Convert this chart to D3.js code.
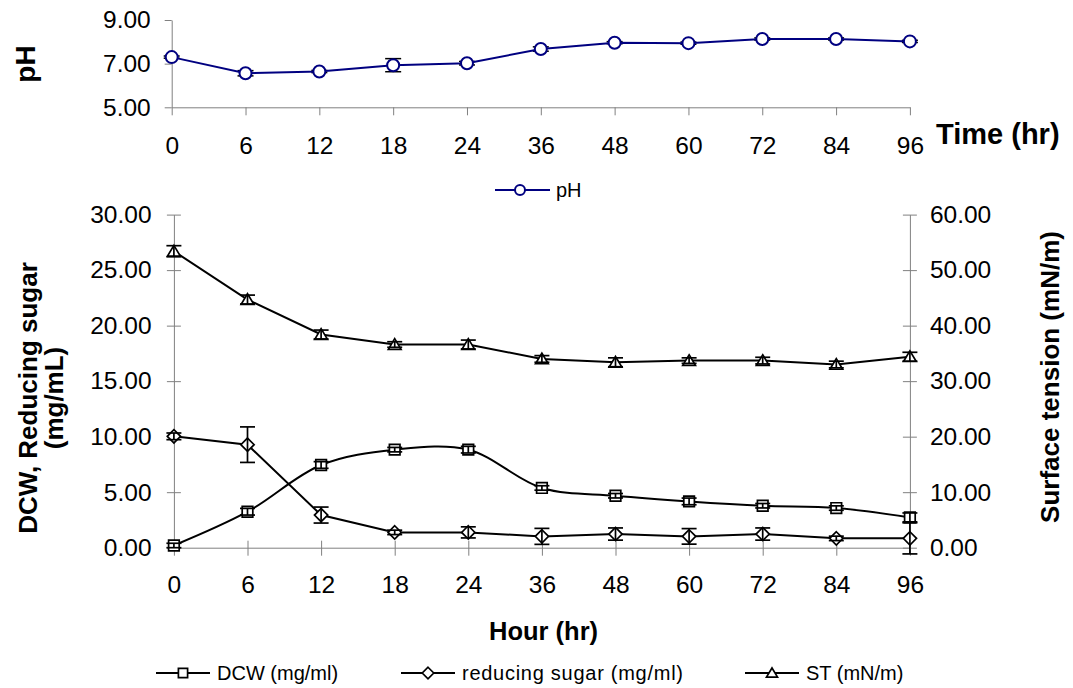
<!DOCTYPE html>
<html>
<head>
<meta charset="utf-8">
<script src="https://cdn.jsdelivr.net/npm/d3@7"></script>
<style>
  html, body { margin: 0; padding: 0; background: #fff; }
  svg { display: block; font-family: "Liberation Sans", Arial, sans-serif; }
  .tick text { font-size: 24.5px; fill: #000; }
</style>
</head>
<body>
<svg id="chart" width="1073" height="688"></svg>
<script>
// ---- Data ----
const hours = ["0", "6", "12", "18", "24", "36", "48", "60", "72", "84", "96"];
const ph = [7.30, 6.56, 6.64, 6.93, 7.02, 7.67, 7.96, 7.94, 8.13, 8.13, 8.02];
const phErr = [0.05, 0.12, 0.05, 0.30, 0.08, 0.10, 0.05, 0.05, 0.05, 0.05, 0.05];
const dcw = [0.20, 3.24, 7.45, 8.83, 8.83, 5.38, 4.68, 4.17, 3.78, 3.57, 2.73];
const dcwErr = [0.20, 0.30, 0.30, 0.20, 0.30, 0.20, 0.20, 0.30, 0.20, 0.20, 0.40];
const sugar = [10.03, 9.28, 2.94, 1.38, 1.38, 1.02, 1.23, 1.02, 1.23, 0.84, 0.84];
const sugarErr = [0.30, 1.60, 0.72, 0.20, 0.50, 0.72, 0.55, 0.70, 0.55, 0.20, 1.40];
const st = [53.4, 44.7, 38.4, 36.6, 36.6, 34.0, 33.4, 33.7, 33.7, 33.0, 34.4];
const stErr = [1.0, 0.8, 0.8, 0.5, 0.8, 0.6, 0.8, 0.5, 0.6, 0.6, 0.8];
const phTicks = [5, 7, 9];
const leftTicks = [0, 5, 10, 15, 20, 25, 30];
const rightTicks = [0, 10, 20, 30, 40, 50, 60];

const svg = d3.select("#chart");
const fmt = d3.format(".2f");
const AX = "#808080";
const NAVY = "#000080";

// ---- Top chart (pH) ----
const xTop = d3.scalePoint().domain(hours).range([171.7, 909.9]);
const yTop = d3.scaleLinear().domain([5, 9]).range([107.3, 20]);

const gTop = svg.append("g");
const axT = gTop.append("g").attr("transform", "translate(0,107.3)")
  .call(d3.axisBottom(xTop).tickSize(8).tickPadding(21).tickSizeOuter(0));
const ayT = gTop.append("g").attr("transform", "translate(171.7,0)")
  .call(d3.axisLeft(yTop).tickValues(phTicks).tickFormat(fmt).tickSize(7).tickPadding(14).tickSizeOuter(0));
[axT, ayT].forEach(a => { a.select(".domain").attr("stroke", AX); a.selectAll(".tick line").attr("stroke", AX); });

const phData = hours.map((h, i) => ({h, v: ph[i], e: phErr[i]}));
const ebT = gTop.append("g").attr("stroke", "#000").attr("stroke-width", 1.5);
phData.forEach(d => {
  const x = xTop(d.h);
  ebT.append("line").attr("x1", x).attr("x2", x).attr("y1", yTop(d.v - d.e)).attr("y2", yTop(d.v + d.e));
  ebT.append("line").attr("x1", x - 8).attr("x2", x + 8).attr("y1", yTop(d.v - d.e)).attr("y2", yTop(d.v - d.e));
  ebT.append("line").attr("x1", x - 8).attr("x2", x + 8).attr("y1", yTop(d.v + d.e)).attr("y2", yTop(d.v + d.e));
});
gTop.append("path").datum(phData)
  .attr("fill", "none").attr("stroke", NAVY).attr("stroke-width", 2)
  .attr("d", d3.line().x(d => xTop(d.h)).y(d => yTop(d.v)));
gTop.selectAll("circle.pt").data(phData).join("circle")
  .attr("cx", d => xTop(d.h)).attr("cy", d => yTop(d.v)).attr("r", 6)
  .attr("fill", "#fff").attr("stroke", NAVY).attr("stroke-width", 2);

// titles
svg.append("text").attr("transform", "translate(35,64) rotate(-90)")
  .attr("text-anchor", "middle").attr("font-weight", "bold").attr("font-size", 28).text("pH");
svg.append("text").attr("x", 936).attr("y", 144)
  .attr("font-weight", "bold").attr("font-size", 29).text("Time (hr)");

// pH legend
const lgT = svg.append("g");
lgT.append("line").attr("x1", 495).attr("x2", 550).attr("y1", 190).attr("y2", 190).attr("stroke", NAVY).attr("stroke-width", 2);
lgT.append("circle").attr("cx", 520).attr("cy", 190).attr("r", 5).attr("fill", "#fff").attr("stroke", NAVY).attr("stroke-width", 2);
lgT.append("text").attr("x", 556).attr("y", 197).attr("font-size", 20).text("pH");

// ---- Bottom chart ----
const xB = d3.scalePoint().domain(hours).range([173.9, 909.9]);
const yL = d3.scaleLinear().domain([0, 30]).range([547.7, 214.6]);
const yR = d3.scaleLinear().domain([0, 60]).range([547.7, 214.6]);

const gB = svg.append("g");
const axB = gB.append("g").attr("transform", "translate(0,547.7)")
  .call(d3.axisBottom(xB).tickSize(8).tickPadding(20).tickSizeOuter(0));
axB.selectAll(".tick line").attr("y1", -7);
const ayL = gB.append("g").attr("transform", "translate(173.9,0)")
  .call(d3.axisLeft(yL).tickValues(leftTicks).tickFormat(fmt).tickSize(7).tickPadding(15.4).tickSizeOuter(0));
ayL.selectAll(".tick line").attr("x1", 7);
const ayR = gB.append("g").attr("transform", "translate(909.9,0)")
  .call(d3.axisRight(yR).tickValues(rightTicks).tickFormat(fmt).tickSize(7).tickPadding(13).tickSizeOuter(0));
ayR.selectAll(".tick line").attr("x1", -7);
[axB, ayL, ayR].forEach(a => { a.select(".domain").attr("stroke", AX); a.selectAll(".tick line").attr("stroke", AX); });

const series = [
  {vals: dcw, err: dcwErr, y: yL, curve: d3.curveCatmullRom.alpha(0.5), shape: "square"},
  {vals: sugar, err: sugarErr, y: yL, curve: d3.curveLinear, shape: "diamond"},
  {vals: st, err: stErr, y: yR, curve: d3.curveLinear, shape: "triangle"}
];

function markerPath(shape, x, y, s) {
  if (shape === "square") return `M${x - s},${y - s}h${2 * s}v${2 * s}h${-2 * s}Z`;
  if (shape === "diamond") return `M${x},${y - s * 1.25}L${x + s * 1.25},${y}L${x},${y + s * 1.25}L${x - s * 1.25},${y}Z`;
  return `M${x},${y - s * 1.1}L${x + s * 1.2},${y + s * 0.9}L${x - s * 1.2},${y + s * 0.9}Z`;
}

series.forEach(s => {
  const data = hours.map((h, i) => ({h, v: s.vals[i], e: s.err[i]}));
  gB.append("path").datum(data)
    .attr("fill", "none").attr("stroke", "#000").attr("stroke-width", 2)
    .attr("d", d3.line().curve(s.curve).x(d => xB(d.h)).y(d => s.y(d.v)));
  gB.append("g").selectAll("path").data(data).join("path")
    .attr("d", d => markerPath(s.shape, xB(d.h), s.y(d.v), 5.3))
    .attr("fill", "#fff").attr("stroke", "#000").attr("stroke-width", 1.7);
  const eb = gB.append("g").attr("stroke", "#000").attr("stroke-width", 1.7);
  data.forEach(d => {
    const x = xB(d.h), lo = s.y(d.v - d.e), hi = s.y(d.v + d.e);
    eb.append("line").attr("x1", x).attr("x2", x).attr("y1", lo).attr("y2", hi);
    eb.append("line").attr("x1", x - 7.5).attr("x2", x + 7.5).attr("y1", lo).attr("y2", lo);
    eb.append("line").attr("x1", x - 7.5).attr("x2", x + 7.5).attr("y1", hi).attr("y2", hi);
  });
});

// axis titles
const lt = svg.append("text").attr("transform", "translate(37,398) rotate(-90)")
  .attr("text-anchor", "middle").attr("font-weight", "bold").attr("font-size", 26);
lt.append("tspan").attr("x", 0).attr("dy", 0).text("DCW, Reducing sugar");
lt.append("tspan").attr("x", 0).attr("dy", 26).text("(mg/mL)");
svg.append("text").attr("transform", "translate(1059,377) rotate(-90)")
  .attr("text-anchor", "middle").attr("font-weight", "bold").attr("font-size", 26).text("Surface tension (mN/m)");
svg.append("text").attr("x", 489).attr("y", 640)
  .attr("font-weight", "bold").attr("font-size", 25.5).text("Hour (hr)");

// bottom legend
const legendItems = [
  {label: "DCW (mg/ml)", shape: "square", x: 156, len: null},
  {label: "reducing sugar (mg/ml)", shape: "diamond", x: 401, len: 221},
  {label: "ST (mN/m)", shape: "triangle", x: 745, len: null}
];
const lgB = svg.append("g");
legendItems.forEach(it => {
  lgB.append("line").attr("x1", it.x).attr("x2", it.x + 54).attr("y1", 673).attr("y2", 673).attr("stroke", "#000").attr("stroke-width", 2);
  lgB.append("path").attr("d", markerPath(it.shape, it.x + 27, 673, 4.6)).attr("fill", "#fff").attr("stroke", "#000").attr("stroke-width", 1.7);
  const t = lgB.append("text").attr("x", it.x + 61).attr("y", 680).attr("font-size", 20).text(it.label);
  if (it.len) t.attr("textLength", it.len).attr("lengthAdjust", "spacing");
});
</script>
</body>
</html>
